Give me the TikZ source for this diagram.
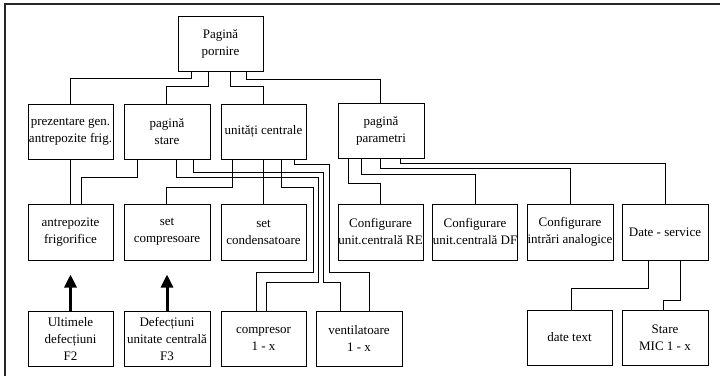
\documentclass[tikz,border=0pt]{standalone}
\usepackage{fontspec}
\setmainfont{Liberation Serif}
\usetikzlibrary{arrows.meta}
\begin{document}
\begin{tikzpicture}[x=1pt,y=-1pt,
  box/.style={draw,line width=1pt,minimum width=85pt,minimum height=55pt,inner sep=0pt,align=center,font=\fontsize{13}{17}\selectfont},
  conn/.style={line width=1pt},
  bigarrow/.style={line width=3pt,-{Triangle[length=13pt,width=12pt]},shorten >=14pt}]
\useasboundingbox (0,0) rectangle (720,376);
\draw[line width=1.6pt,black!85] (5,376) -- (5,4) -- (720,4);
% row 0
\node[box] (pp) at (220.5,43.5) {Pagină\\pornire};
% row 1
\node[box] (prez) at (70.5,131.5) {prezentare gen.\\antrepozite frig.};
\node[box,minimum width=86pt] (stare) at (167,131.5) {pagină\\stare};
\node[box] (unit) at (263.5,131.5) {unități centrale};
\node[box,minimum width=86pt] (param) at (381,130.5) {pagină\\parametri};
% row 2
\node[box,minimum height=56pt] (antr) at (70.5,232) {antrepozite\\frigorifice};
\node[box,minimum width=86pt,minimum height=56pt] (setc) at (167,232) {set\\compresoare};
\node[box,minimum height=56pt] (setd) at (263.5,232) {set\\condensatoare};
\node[box,minimum height=56pt] (cre) at (380.5,232) {Configurare\\unit.centrală RE};
\node[box,minimum width=84pt,minimum height=56pt] (cdf) at (475,232) {Configurare\\unit.centrală DF};
\node[box,minimum width=86pt,minimum height=56pt] (cia) at (570,232) {Configurare\\intrări analogice};
\node[box,minimum width=86pt,minimum height=56pt] (ds) at (665,232) {Date - service};
% row 3
\node[box] (ult) at (70.5,338.5) {Ultimele\\defecțiuni\\F2};
\node[box,minimum width=86pt] (def) at (167,338.5) {Defecțiuni\\unitate centrală\\F3};
\node[box] (comp) at (263.5,338.5) {compresor\\1 - x};
\node[box,minimum width=86pt] (vent) at (359,338.5) {ventilatoare\\1 - x};
\node[box] (dt) at (569.5,337.5) {date text};
\node[box,minimum width=86pt] (mic) at (665,337.5) {Stare\\MIC 1 - x};
% connectors from Pagina pornire
\draw[conn] ([xshift=14pt]pp.south west) -- ++(0,7) -| (prez.north);
\draw[conn] ([xshift=31pt]pp.south west) -- ++(0,15) -| ([xshift=-1pt]stare.north);
\draw[conn] ([xshift=53pt]pp.south west) -- ++(0,15) -| (unit.north);
\draw[conn] ([xshift=69pt]pp.south west) -- ++(0,8) -| ([xshift=-1pt]param.north);
% prezentare
\draw[conn] (prez.south) -- (antr.north);
% pagina stare
\draw[conn] ([xshift=14pt]stare.south west) -- ++(0,18) -| ([xshift=54pt]antr.north west);
\draw[conn] ([xshift=53pt]stare.south west) -- ++(0,18) -| ++(142,105) -| ([xshift=46pt]comp.north west);
\draw[conn] ([xshift=70pt]stare.south west) -- ++(0,13) -| ++(130,110) -| ([xshift=25pt]vent.north west);
% unitati centrale
\draw[conn] ([xshift=12pt]unit.south west) -- ++(0,28) -| ([xshift=-1pt]setc.north);
\draw[conn] (unit.south) -- (setd.north);
\draw[conn] ([xshift=61pt]unit.south west) -- ++(0,28) -| ++(32,85) -| ([xshift=36pt]comp.north west);
\draw[conn] ([xshift=74pt]unit.south west) -- ++(0,5) -| ++(35,108) -| ([xshift=54pt]vent.north west);
% pagina parametri
\draw[conn] ([xshift=11pt]param.south west) -- ++(0,25) -| (cre.north);
\draw[conn] ([xshift=24pt]param.south west) -- ++(0,16) -| (cdf.north);
\draw[conn] ([xshift=43pt]param.south west) -- ++(0,10) -| (cia.north);
\draw[conn] ([xshift=63pt]param.south west) -- ++(0,5) -| (ds.north);
% date service
\draw[conn] ([xshift=27pt]ds.south west) -- ++(0,28) -| ([xshift=45pt]dt.north west);
\draw[conn] ([xshift=59pt]ds.south west) -- ++(0,40) -| ([xshift=42pt]mic.north west);
% arrows
\draw[bigarrow] (ult.north) -- (antr.south);
\draw[bigarrow] (def.north) -- (setc.south);
\end{tikzpicture}
\end{document}
